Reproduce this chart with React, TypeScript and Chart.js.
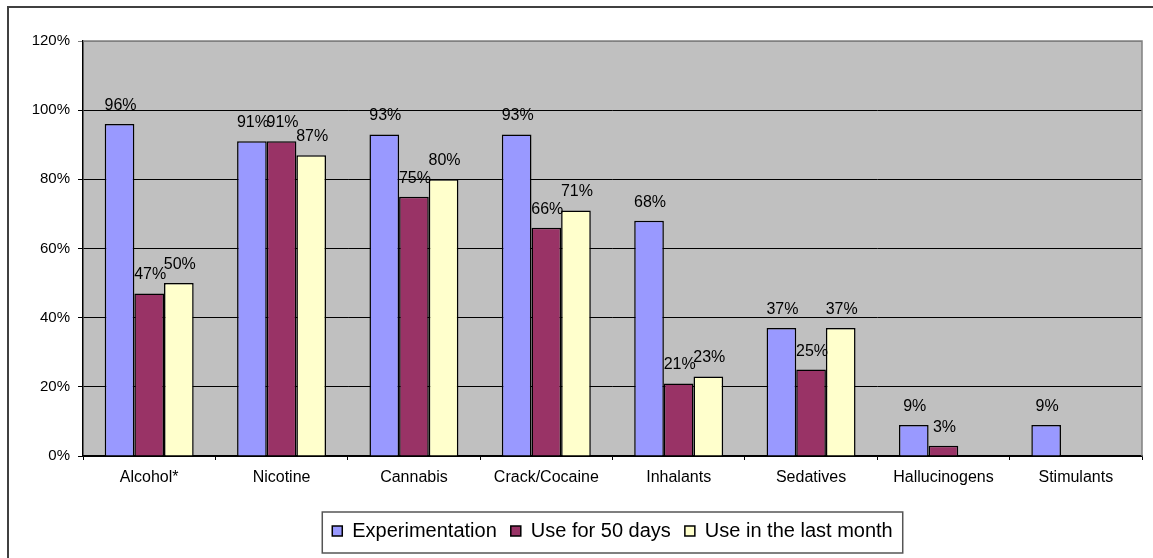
import { useEffect, useRef } from "react";
import { Chart, registerables } from "chart.js";

Chart.register(...registerables);

const FONT = "'Liberation Sans', Arial, sans-serif";

const categories = [
  "Alcohol*",
  "Nicotine",
  "Cannabis",
  "Crack/Cocaine",
  "Inhalants",
  "Sedatives",
  "Hallucinogens",
  "Stimulants",
];
const experimentation = [96, 91, 93, 93, 68, 37, 9, 9];
const useFor50Days = [47, 91, 75, 66, 21, 25, 3, null];
const useLastMonth = [50, 87, 80, 71, 23, 37, null, null];
const seriesNames = ["Experimentation", "Use for 50 days", "Use in the last month"];
const seriesColors = ["#9999FF", "#993366", "#FFFFCC"];
const yTicks = [0, 20, 40, 60, 80, 100, 120];

const decorPlugin = {
  id: "decor",
  beforeDraw(chart: any) {
    const { ctx, chartArea: a } = chart;
    ctx.save();
    ctx.fillStyle = "#ffffff";
    ctx.fillRect(0, 0, chart.width, chart.height);
    ctx.strokeStyle = "#404040";
    ctx.lineWidth = 2;
    ctx.strokeRect(8, 7, chart.width + 40, chart.height + 40);
    ctx.fillStyle = "#C0C0C0";
    ctx.fillRect(a.left, a.top, a.right - a.left, a.bottom - a.top);
    ctx.restore();
  },
  beforeDatasetsDraw(chart: any) {
    const { ctx, chartArea: a } = chart;
    ctx.save();
    ctx.strokeStyle = "#808080";
    ctx.lineWidth = 1.5;
    ctx.beginPath();
    ctx.moveTo(a.left, a.top);
    ctx.lineTo(a.right, a.top);
    ctx.lineTo(a.right, a.bottom);
    ctx.stroke();
    ctx.restore();
  },
  afterDatasetsDraw(chart: any) {
    const { ctx } = chart;
    ctx.save();
    ctx.font = `16px ${FONT}`;
    ctx.fillStyle = "#000";
    ctx.textAlign = "center";
    ctx.textBaseline = "alphabetic";
    chart.data.datasets.forEach((ds: any, i: number) => {
      const meta = chart.getDatasetMeta(i);
      meta.data.forEach((bar: any, j: number) => {
        const v = ds.data[j];
        if (v === null || v === undefined) return;
        ctx.fillText(`${v}%`, bar.x + 1, bar.y - 14);
      });
    });
    ctx.restore();
  },
  afterDraw(chart: any) {
    const hb = chart.legend && chart.legend.legendHitBoxes;
    if (!hb || !hb.length) return;
    const { ctx } = chart;
    const first = hb[0];
    const last = hb[hb.length - 1];
    const left = first.left - 10;
    const right = last.left + last.width + 10;
    const top = first.top - 9;
    const bottom = first.top + first.height + 12;
    ctx.save();
    ctx.strokeStyle = "#555";
    ctx.lineWidth = 1.5;
    ctx.strokeRect(left, top, right - left, bottom - top);
    ctx.restore();
  },
};

export default function App() {
  const ref = useRef<HTMLCanvasElement>(null);

  useEffect(() => {
    document.body.style.margin = "0";
    const data = [experimentation, useFor50Days, useLastMonth];
    const chart = new Chart(ref.current as HTMLCanvasElement, {
      type: "bar",
      data: {
        labels: categories,
        datasets: data.map((d, i) => ({
          label: seriesNames[i],
          data: d,
          backgroundColor: seriesColors[i],
          borderColor: "#000",
          borderWidth: 1.5,
          categoryPercentage: 0.672,
          barPercentage: 1,
        })),
      },
      options: {
        animation: false,
        responsive: true,
        maintainAspectRatio: false,
        layout: { padding: { left: 0, right: 11, top: 41, bottom: 7 } },
        plugins: {
          tooltip: { enabled: false },
          legend: {
            position: "bottom",
            fullSize: false,
            labels: {
              boxWidth: 10,
              boxHeight: 10,
              padding: 14,
              color: "#000",
              font: { size: 20, family: FONT },
            },
          },
        },
        scales: {
          x: {
            type: "category",
            grid: {
              display: true,
              drawOnChartArea: false,
              drawTicks: true,
              tickLength: 4,
              color: "#000",
              offset: true,
            },
            border: { display: true, color: "#000", width: 1.5 },
            ticks: {
              padding: 8,
              color: "#000",
              font: { size: 16, family: FONT },
              autoSkip: false,
              maxRotation: 0,
            },
            afterFit: (s: any) => {
              s.height = 51;
            },
          },
          y: {
            min: 0,
            max: 120,
            afterBuildTicks: (s: any) => {
              s.ticks = yTicks.map((v) => ({ value: v }));
            },
            grid: {
              color: (c: any) => (c.tick && c.tick.value === 120 ? "#808080" : "#000"),
              lineWidth: 1,
              drawTicks: true,
              tickLength: 5,
            },
            border: { display: true, color: "#000", width: 1.5 },
            ticks: {
              padding: 8,
              color: "#000",
              font: { size: 15, family: FONT },
              callback: (v: any) => `${v}%`,
            },
            afterFit: (s: any) => {
              s.width = 83;
            },
          },
        },
      },
      plugins: [decorPlugin],
    });
    return () => chart.destroy();
  }, []);

  return (
    <div style={{ position: "fixed", left: 0, top: 0, width: 1153, height: 558 }}>
      <canvas ref={ref} />
    </div>
  );
}
